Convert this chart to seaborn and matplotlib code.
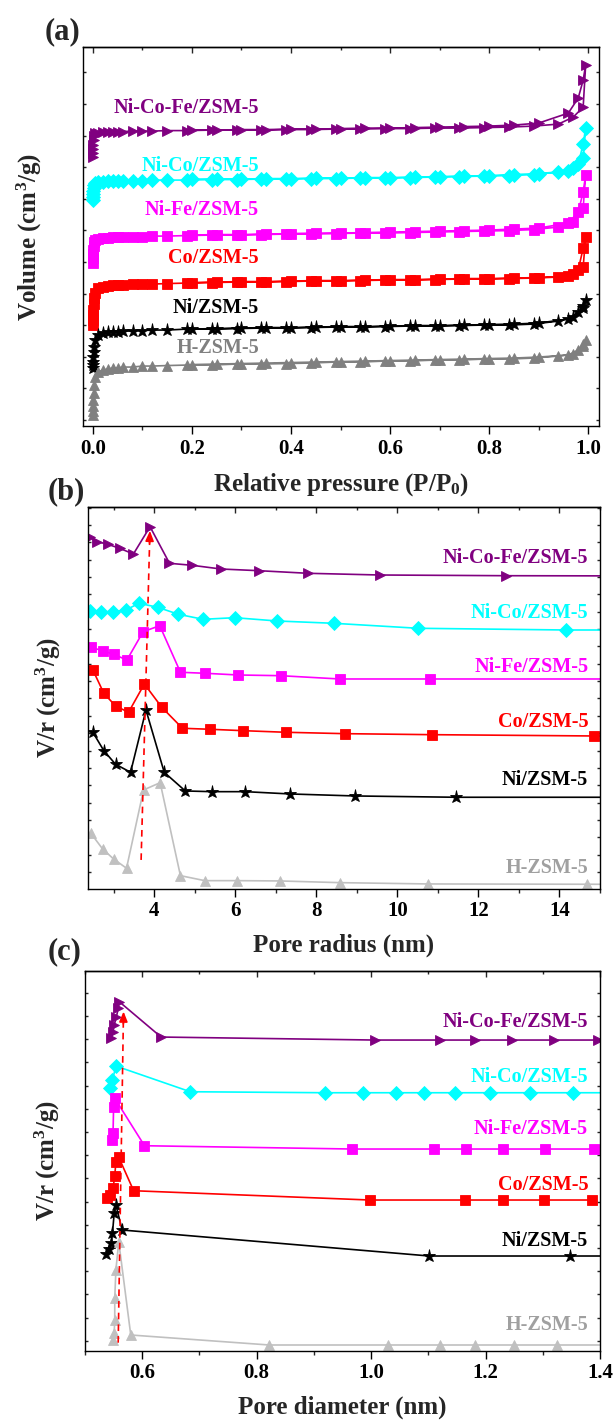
import numpy as np
import pandas as pd
import matplotlib
matplotlib.use("Agg")
import matplotlib.pyplot as plt
import seaborn as sns
from matplotlib.ticker import MultipleLocator

# ---------------- data ----------------
NAMES = ["Ni-Co-Fe/ZSM-5", "Ni-Co/ZSM-5", "Ni-Fe/ZSM-5", "Co/ZSM-5", "Ni/ZSM-5", "H-ZSM-5"]
COLORS = ["#800080", "#00FFFF", "#FF00FF", "#FF0000", "#000000", "#808080"]
MARKERS = [">", "D", "s", "s", "*", "^"]

# (a) N2 isotherms: shared relative pressures, adsorption then desorption
P_ADS = [0.0001, 0.0003, 0.0006, 0.001, 0.002, 0.003, 0.005, 0.01, 0.02, 0.03, 0.04, 0.05,
         0.06, 0.08, 0.10, 0.12, 0.15, 0.19, 0.24, 0.29, 0.34, 0.39, 0.44, 0.49, 0.54, 0.59,
         0.64, 0.69, 0.74, 0.79, 0.84, 0.89, 0.94, 0.97, 0.99, 0.995]
P_DES = [0.99, 0.98, 0.96, 0.90, 0.85, 0.80, 0.75, 0.70, 0.65, 0.60, 0.55, 0.50, 0.45, 0.40,
         0.35, 0.30, 0.25, 0.20]

NICOFE_ADS = [263, 267, 271, 275, 280, 284, 287, 287.5, 288, 288, 288.5, 288.5, 288.5, 289, 289,
              289, 289.5, 289.5, 290, 290, 290, 290.5, 290.5, 291, 291, 291.5, 291.5, 292, 292,
              292.5, 293, 294, 296, 303, 313, 355]
NICOFE_DES = [340, 322, 307, 297, 295, 294, 293.5, 293, 292.5, 292, 292, 291.5, 291, 291, 290.5,
              290.5, 290, 290]
NICO_ADS = [220, 223, 226, 229, 232, 235, 237, 238, 238.5, 239, 239, 239, 239.5, 239.5, 239.5,
            240, 240, 240, 240.5, 240.5, 241, 241, 241.5, 241.5, 242, 242, 242.5, 243, 243.5,
            244, 244.5, 245.5, 248, 252, 262, 292]
NICO_DES = [276, 256, 249, 246.5, 245.5, 244.5, 244, 243.5, 243, 242.5, 242.5, 242, 242, 241.5,
            241.5, 241, 241, 241]
NIFE_ADS = [157, 162, 166, 170, 174, 178, 180, 181, 182, 182.5, 183, 183, 183, 183.5, 183.5, 184,
            184, 184.5, 185, 185, 185.5, 186, 186, 186.5, 187, 187, 187.5, 188, 188.5, 189,
            189.5, 190.5, 193, 198, 212, 245]
NIFE_DES = [228, 208, 197, 192, 191, 190, 189.5, 189, 188.5, 188, 187.5, 187, 187, 186.5, 186,
            185.5, 185.5, 185]
CO_ADS = [95, 100, 105, 110, 116, 122, 127, 132, 133, 134, 135, 135, 135.5, 136, 136, 136, 136.5,
          137, 137.5, 138, 138, 138.5, 139, 139, 139.5, 140, 140, 140.5, 141, 141, 141.5, 142,
          143, 146, 153, 183]
CO_DES = [172, 150, 144, 142.5, 142, 141.5, 141.5, 141, 140.5, 140.5, 140, 139.5, 139.5, 139,
          138.5, 138.5, 138, 137.5]
NI_ADS = [52, 55, 58, 63, 68, 73, 80, 85, 87, 88, 88, 88.5, 89, 89, 89.5, 90, 90, 91, 91, 91.5,
          92, 92, 92.5, 93, 93, 93.5, 94, 94, 94.5, 95, 95, 96, 99, 103, 112, 120]
NI_DES = [114, 108, 101, 97, 96, 95.5, 95, 94.5, 94.5, 94, 93.5, 93.5, 93, 92.5, 92.5, 92, 91.5, 91]
H_ADS = [5, 9, 14, 20, 27, 35, 43, 48, 50, 51, 52, 52, 53, 53, 54, 54, 54.5, 55, 55, 56, 56, 56.5,
         57, 58, 58, 59, 59, 60, 60, 61, 61, 62, 64, 66, 74, 80]
H_DES = [76, 70, 65, 63, 62, 61.5, 61, 60.5, 60, 59.5, 59, 58.5, 58, 57.5, 57, 56.5, 56, 55.5]

# (b) pore radius distribution (offset curves)
R_NICOFE = [2.43, 2.60, 2.86, 3.15, 3.49, 3.90, 4.38, 4.94, 5.65, 6.59, 7.80, 9.57, 12.67, 17.0]
VR_NICOFE = [334.7, 330.3, 327.7, 323.7, 318, 345.3, 308.7, 306.7, 303, 301.3, 298.7, 297, 296.3, 296]
R_NICO = [2.43, 2.70, 2.98, 3.30, 3.63, 4.09, 4.60, 5.21, 5.99, 7.04, 8.43, 10.52, 14.16, 17.0]
VR_NICO = [261.3, 260.3, 260.3, 262, 268.7, 264.7, 257.7, 252.7, 254.3, 251, 248.7, 243.7, 242, 242]
R_NIFE = [2.44, 2.73, 3.00, 3.33, 3.73, 4.14, 4.65, 5.26, 6.07, 7.12, 8.58, 10.81, 17.0]
VR_NIFE = [224.7, 221.3, 217.7, 212, 240.3, 246.3, 199.7, 198.7, 197, 196.3, 193, 193, 193]
R_CO = [2.49, 2.76, 3.05, 3.37, 3.76, 4.19, 4.70, 5.38, 6.20, 7.25, 8.72, 10.85, 14.84, 17.0]
VR_CO = [202, 178.7, 166, 159.7, 188, 164.7, 143.7, 142.7, 141.3, 139.7, 138.3, 137.3, 136, 135.5]
R_NI = [2.49, 2.76, 3.05, 3.42, 3.80, 4.25, 4.77, 5.43, 6.25, 7.36, 8.96, 11.45, 17.0]
VR_NI = [139.7, 121.3, 107.7, 99.7, 162, 99.7, 81, 80.3, 80.3, 78, 76, 74.7, 74.7]
R_H = [2.44, 2.73, 3.00, 3.32, 3.74, 4.15, 4.65, 5.25, 6.05, 7.10, 8.58, 10.76, 14.68, 17.0]
VR_H = [38.7, 23, 13, 3.7, 82, 89.3, -3.7, -8.7, -8.7, -9, -10.7, -12, -12.3, -12.5]

# (c) pore diameter distribution (offset curves)
D_NICOFE = [0.546, 0.549, 0.551, 0.555, 0.558, 0.560, 0.633, 1.007, 1.120, 1.181, 1.246, 1.320, 1.396]
VD_NICOFE = [302.4, 309, 315.7, 324, 332.4, 339, 303.7, 300.7, 300.7, 300.7, 300.7, 300.7, 300.7]
D_NICO = [0.544, 0.548, 0.554, 0.684, 0.920, 0.986, 1.044, 1.092, 1.146, 1.208, 1.278, 1.353, 1.45]
VD_NICO = [252.4, 260.7, 274.7, 249, 248, 248, 248, 248, 248, 248, 248, 248, 248]
D_NIFE = [0.547, 0.549, 0.550, 0.552, 0.604, 0.967, 1.110, 1.166, 1.230, 1.304, 1.389]
VD_NIFE = [200.7, 207.4, 234, 242.4, 195, 191.7, 191.7, 191.7, 191.7, 191.7, 191.7]
D_CO = [0.539, 0.544, 0.549, 0.552, 0.554, 0.559, 0.585, 0.998, 1.165, 1.231, 1.303, 1.387]
VD_CO = [142.4, 145.7, 152.4, 164.7, 179, 183.4, 150, 140.7, 140.7, 140.7, 140.7, 140.7]
D_NI = [0.537, 0.542, 0.546, 0.548, 0.551, 0.554, 0.565, 1.102, 1.348, 1.45]
VD_NI = [86.7, 91.4, 97.4, 107.4, 127.4, 135.7, 110.7, 84.7, 84.7, 84.7]
D_H = [0.549, 0.551, 0.552, 0.552, 0.554, 0.559, 0.580, 0.822, 1.029, 1.120, 1.181, 1.249, 1.325, 1.45]
VD_H = [0.7, 7.4, 20.7, 42.4, 70.7, 99, 5.7, -4.3, -4.3, -4.3, -4.3, -4.3, -4.3, -4.3]

# ---------------- style ----------------
sns.set_style("ticks")
plt.rcParams["font.family"] = ["Liberation Serif", "DejaVu Serif"]
plt.rcParams["font.weight"] = "bold"
plt.rcParams["axes.labelweight"] = "bold"
plt.rcParams["mathtext.fontset"] = "custom"
plt.rcParams["mathtext.rm"] = "Liberation Serif:bold"
plt.rcParams["mathtext.bf"] = "Liberation Serif:bold"
plt.rcParams["mathtext.it"] = "Liberation Serif:bold"

fig = plt.figure(figsize=(6.15, 14.23), dpi=100)
ax_a = fig.add_axes([0.135, 0.7006, 0.839, 0.2663])
ax_b = fig.add_axes([0.1431, 0.3753, 0.8325, 0.2684])
ax_c = fig.add_axes([0.1382, 0.0506, 0.8374, 0.2670])


def draw(ax, x, y, i, ms, gray=None):
    c = gray if gray else COLORS[i]
    df = pd.DataFrame({"x": x, "y": y})
    sns.lineplot(data=df, x="x", y="y", ax=ax, sort=False, estimator=None,
                 color=c, marker=MARKERS[i], markersize=ms * (1.35 if MARKERS[i] == "*" else 1.0),
                 markeredgecolor=c, markeredgewidth=0.6, linewidth=1.2)


def style_axes(ax, xlim, ylim, xmaj, xmin, ystep, xlabel, ylabel, ylabel_x):
    ax.set_xlim(*xlim)
    ax.set_ylim(*ylim)
    ax.xaxis.set_major_locator(MultipleLocator(xmaj))
    ax.xaxis.set_minor_locator(MultipleLocator(xmin))
    ax.yaxis.set_major_locator(MultipleLocator(ystep))
    ax.tick_params(axis="x", which="major", direction="out", length=5.5, width=1,
                   labelsize=15, pad=3.5, colors="black")
    ax.tick_params(axis="x", which="minor", direction="out", length=3, width=1)
    ax.tick_params(axis="y", which="major", direction="in", left=True, right=True,
                   length=2.5, width=1, labelleft=False)
    top = ax.secondary_xaxis("top")
    top.xaxis.set_major_locator(MultipleLocator(xmaj))
    top.xaxis.set_minor_locator(MultipleLocator(xmin))
    top.tick_params(which="major", direction="in", length=4, width=1, labeltop=False)
    top.tick_params(which="minor", direction="in", length=2.5, width=1)
    for s in list(ax.spines.values()) + list(top.spines.values()):
        s.set_linewidth(1.0)
        s.set_color("black")
    ax.set_xlabel(xlabel, fontsize=18, labelpad=9)
    ax.set_ylabel(ylabel, fontsize=18)
    ax.yaxis.set_label_coords(ylabel_x, 0.5)


def add_names(ax, xs, ys, ha, text_colors):
    for name, c, yy in zip(NAMES, text_colors, ys):
        ax.text(xs, yy, name, transform=ax.transAxes, ha=ha, va="center",
                fontsize=14.5, fontweight="bold", color=c)


# (a)
a_sets = [(NICOFE_ADS, NICOFE_DES), (NICO_ADS, NICO_DES), (NIFE_ADS, NIFE_DES),
          (CO_ADS, CO_DES), (NI_ADS, NI_DES), (H_ADS, H_DES)]
for i, (ads, des) in enumerate(a_sets):
    draw(ax_a, P_ADS + P_DES, ads + des, i, 7)
style_axes(ax_a, (-0.02, 1.022), (-6, 373), 0.2, 0.1, 31.6,
           "Relative pressure (P/P$_{0}$)", "Volume (cm$^{3}$/g)", -0.075)
add_names(ax_a, 0.341, [0.839, 0.686, 0.570, 0.443, 0.311, 0.206], "right", COLORS)

# (b)
b_sets = [(R_NICOFE, VR_NICOFE), (R_NICO, VR_NICO), (R_NIFE, VR_NIFE),
          (R_CO, VR_CO), (R_NI, VR_NI), (R_H, VR_H)]
for i, (x, y) in enumerate(b_sets):
    draw(ax_b, x, y, i, 7, gray="#C0C0C0" if i == 5 else None)
ax_b.plot([3.68, 3.89], [12, 330], ls=(0, (4, 3)), color="red", lw=1.2)
ax_b.annotate("", xy=(3.90, 344), xytext=(3.885, 326),
              arrowprops=dict(arrowstyle="-|>,head_length=0.6,head_width=0.25",
                              color="red", lw=1.2))
style_axes(ax_b, (2.37, 15.0), (-17, 365), 2, 1, 17.35,
           "Pore radius (nm)", "V/r (cm$^{3}$/g)", -0.048)
add_names(ax_b, 0.977, [0.866, 0.723, 0.581, 0.437, 0.285, 0.055], "right",
          COLORS[:5] + ["#A0A0A0"])

# (c)
c_sets = [(D_NICOFE, VD_NICOFE), (D_NICO, VD_NICO), (D_NIFE, VD_NIFE),
          (D_CO, VD_CO), (D_NI, VD_NI), (D_H, VD_H)]
for i, (x, y) in enumerate(c_sets):
    draw(ax_c, x, y, i, 7, gray="#C0C0C0" if i == 5 else None)
ax_c.plot([0.558, 0.567], [-2, 318], ls=(0, (4, 3)), color="red", lw=1.2)
ax_c.annotate("", xy=(0.5675, 332), xytext=(0.567, 314),
              arrowprops=dict(arrowstyle="-|>,head_length=0.6,head_width=0.25",
                              color="red", lw=1.2))
style_axes(ax_c, (0.5, 1.4001), (-10.3, 369.7), 0.2, 0.1, 23.2,
           "Pore diameter (nm)", "V/r (cm$^{3}$/g)", -0.045)
add_names(ax_c, 0.977, [0.866, 0.721, 0.584, 0.437, 0.289, 0.068], "right",
          COLORS[:5] + ["#A0A0A0"])

for lab, (x, y) in zip(["(a)", "(b)", "(c)"], [(63, 32), (66, 492), (65, 952)]):
    fig.text(x / 615, 1 - y / 1423, lab, ha="center", va="center", fontsize=22, fontweight="bold")

fig.savefig("out.png", dpi=100)
